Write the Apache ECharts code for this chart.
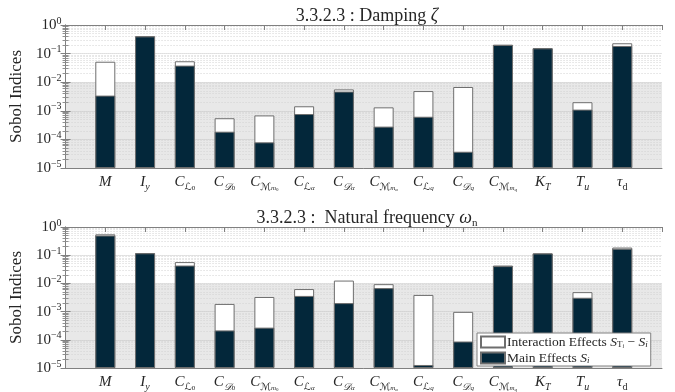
<!DOCTYPE html>
<html><head><meta charset="utf-8">
<script src="https://cdn.jsdelivr.net/npm/echarts@6/dist/echarts.min.js"></script>
<style>html,body{margin:0;padding:0;background:#fff}#c{width:675px;height:392px}</style>
</head><body><div id="c"></div>
<script>
// ---- data ----
const categories = [
  '{it|M}',
  '{it|I}{sbi|y}',
  '{it|C}{sc|ℒ}{ssu|0}',
  '{it|C}{sc|𝒟}{ssu|0}',
  '{it|C}{sc|ℳ}{ssi|m}{sssu|0}',
  '{it|C}{sc|ℒ}{ssi|α}',
  '{it|C}{sc|𝒟}{ssi|α}',
  '{it|C}{sc|ℳ}{ssi|m}{sssi|α}',
  '{it|C}{sc|ℒ}{ssi|q}',
  '{it|C}{sc|𝒟}{ssi|q}',
  '{it|C}{sc|ℳ}{ssi|m}{sssi|q}',
  '{it|K}{sbi|T}',
  '{it|T}{sbi|u}',
  '{it|τ}{sbu|d}'
];
// Damping zeta
const dampMain  = [0.0034, 0.40, 0.038, 1.86e-4, 7.9e-5, 7.7e-4, 4.7e-3, 2.8e-4, 6.2e-4, 3.7e-5, 0.20, 0.153, 1.1e-3, 0.185];
const dampTotal = [0.052, 0.41, 0.054, 5.5e-4, 6.9e-4, 1.44e-3, 5.6e-3, 1.32e-3, 4.9e-3, 6.8e-3, 0.205, 0.155, 2.0e-3, 0.23];
// Natural frequency omega_n
const freqMain  = [0.50, 0.117, 0.043, 2.15e-4, 2.7e-4, 3.6e-3, 2.0e-3, 6.8e-3, 1.28e-5, 8.7e-5, 0.041, 0.115, 3.1e-3, 0.17];
const freqTotal = [0.55, 0.119, 0.057, 1.87e-3, 3.3e-3, 6.3e-3, 0.0126, 9.4e-3, 3.9e-3, 9.8e-4, 0.043, 0.117, 4.9e-3, 0.187];
const yTicks = [1e-5, 1e-4, 1e-3, 1e-2, 1e-1, 1];
const titles = [
  '{n|3.3.2.3 : Damping }{g|ζ}',
  '{n|3.3.2.3 :  Natural frequency }{g|ω}{su|n}'
];
const legendNames = ['Interaction Effects', 'Main Effects'];

// ---- styles ----
const SERIF = '"Liberation Serif","DejaVu Serif",serif';
const MATH = '"DejaVu Serif","DejaVu Sans",serif';
const DARK = '#03273a';
const TXT = '#262626';
const richX = {
  it:  {fontFamily: SERIF, fontStyle: 'italic', fontSize: 15, lineHeight: 20, color: TXT},
  sbi: {fontFamily: SERIF, fontStyle: 'italic', fontSize: 10, lineHeight: 8, verticalAlign: 'bottom', color: TXT},
  sbu: {fontFamily: SERIF, fontSize: 10, lineHeight: 8, verticalAlign: 'bottom', color: TXT},
  sc:  {fontFamily: MATH, fontStyle: 'italic', fontSize: 10, lineHeight: 8, verticalAlign: 'bottom', color: TXT},
  ssu: {fontFamily: SERIF, fontSize: 7, lineHeight: 3, verticalAlign: 'bottom', color: TXT},
  ssi: {fontFamily: SERIF, fontStyle: 'italic', fontSize: 7, lineHeight: 3, verticalAlign: 'bottom', color: TXT},
  sssu:{fontFamily: SERIF, fontSize: 5, lineHeight: 1, verticalAlign: 'bottom', color: TXT},
  sssi:{fontFamily: SERIF, fontStyle: 'italic', fontSize: 5, lineHeight: 1, verticalAlign: 'bottom', color: TXT}
};
const richY = {
  b: {fontFamily: SERIF, fontSize: 15, lineHeight: 18, color: TXT},
  s: {fontFamily: SERIF, fontSize: 10, lineHeight: 8, verticalAlign: 'top', color: TXT}
};
const grids = [
  {left: 57, right: 13, top: 25, height: 143},
  {left: 57, right: 13, top: 227, height: 142}
];
const xAxes = [], yAxes = [], series = [], titleOpts = [];
[[dampMain, dampTotal], [freqMain, freqTotal]].forEach(([main, total], g) => {
  xAxes.push({
    gridIndex: g, type: 'value', min: 0, max: 15, interval: 1, position: 'bottom',
    axisLine: {show: true, onZero: false, lineStyle: {color: '#808080'}},
    axisTick: {show: false},
    splitLine: {show: false},
    axisLabel: {
      margin: 4, rich: richX,
      formatter: v => (v >= 1 && v <= categories.length) ? categories[v - 1] : ''
    }
  });
  xAxes.push({
    gridIndex: g, type: 'value', min: 0, max: 15, interval: 1, position: 'top',
    axisLine: {show: true, onZero: false, lineStyle: {color: '#808080'}},
    axisTick: {show: true, inside: true, length: 5, lineStyle: {color: '#808080'}},
    axisLabel: {show: false}, splitLine: {show: false}
  });
  yAxes.push({
    gridIndex: g, type: 'log', min: 1e-5, max: 1, logBase: 10, startValue: 1e-5,
    name: 'Sobol Indices', nameLocation: 'middle', nameGap: 36,
    nameTextStyle: {fontFamily: SERIF, fontSize: 17, color: TXT},
    axisLine: {show: true, lineStyle: {color: '#808080'}},
    axisTick: {show: true, inside: true, length: 5, lineStyle: {color: '#808080'}},
    minorTick: {show: true, splitNumber: 9, length: 3, lineStyle: {color: '#909090'}},
    minorSplitLine: {show: true, lineStyle: {color: '#d2d2d2', width: 1, type: [1, 2]}},
    splitLine: {show: true, lineStyle: {color: '#c4c4c4', width: 1, type: [1, 1]}},
    splitArea: {show: true, areaStyle: {color: ['#e8e8e8', '#e8e8e8', '#e8e8e8', '#ffffff', '#ffffff']}},
    axisLabel: {
      margin: 4, rich: richY,
      formatter: v => {
        const e = Math.round(Math.log10(v));
        return '{b|10}{s|' + (e < 0 ? '−' + (-e) : e) + '}';
      }
    }
  });
  yAxes.push({
    gridIndex: g, type: 'log', min: 1e-5, max: 1, logBase: 10, position: 'right',
    axisLine: {show: true, lineStyle: {color: '#808080'}},
    axisTick: {show: true, inside: true, length: 5, lineStyle: {color: '#808080'}},
    minorTick: {show: true, splitNumber: 9, length: 3, lineStyle: {color: '#909090'}},
    axisLabel: {show: false}, splitLine: {show: false}
  });
  series.push({
    name: legendNames[0], type: 'bar', xAxisIndex: 2 * g, yAxisIndex: 2 * g,
    barWidth: 20, barGap: '-100%', z: 3,
    itemStyle: {color: '#ffffff', borderColor: '#6e6e6e', borderWidth: 1},
    data: total.map((v, i) => [i + 1, v])
  });
  series.push({
    name: legendNames[1], type: 'bar', xAxisIndex: 2 * g, yAxisIndex: 2 * g,
    barWidth: 20, barGap: '-100%', z: 4,
    itemStyle: {color: DARK, borderColor: '#6e6e6e', borderWidth: 1},
    data: main.map((v, i) => [i + 1, v])
  });
  titleOpts.push({
    text: titles[g], left: 362, textAlign: 'center', top: g === 0 ? 0 : 202,
    textStyle: {
      fontWeight: 'normal',
      rich: {
        n: {fontFamily: SERIF, fontWeight: 'normal', fontSize: 18, color: TXT, lineHeight: 22},
        g: {fontFamily: SERIF, fontWeight: 'normal', fontStyle: 'italic', fontSize: 18, color: TXT, lineHeight: 22},
        su: {fontFamily: SERIF, fontWeight: 'normal', fontSize: 11, color: TXT, lineHeight: 9, verticalAlign: 'bottom'}
      }
    }
  });
});
const chart = echarts.init(document.getElementById('c'), null, {renderer: 'canvas'});
chart.setOption({
  animation: false,
  backgroundColor: '#ffffff',
  title: titleOpts,
  grid: grids,
  xAxis: xAxes,
  yAxis: yAxes,
  legend: {
    data: legendNames.map(n => ({name: n, icon: 'rect'})),
    orient: 'vertical', left: 477, top: 333, z: 20,
    itemWidth: 24, itemHeight: 11, itemGap: 2, padding: [2, 3, 1, 3],
    backgroundColor: '#ffffff', borderColor: '#808080', borderWidth: 1, borderRadius: 0,
    selectedMode: false,
    textStyle: {
      fontFamily: SERIF, fontSize: 13, color: TXT, padding: [0, 0, 0, -3],
      rich: {
        t: {fontFamily: SERIF, fontSize: 13.5, color: TXT, lineHeight: 14},
        i: {fontFamily: SERIF, fontStyle: 'italic', fontSize: 13.5, color: TXT, lineHeight: 14},
        s: {fontFamily: SERIF, fontSize: 9, color: TXT, lineHeight: 5, verticalAlign: 'bottom'},
        si: {fontFamily: SERIF, fontStyle: 'italic', fontSize: 9, color: TXT, lineHeight: 5, verticalAlign: 'bottom'},
        ss: {fontFamily: SERIF, fontStyle: 'italic', fontSize: 6, color: TXT, lineHeight: 1, verticalAlign: 'bottom'}
      }
    },
    formatter: name => name === legendNames[0]
      ? '{t|Interaction Effects }{i|S}{s|T}{ss|i}{t| − }{i|S}{si|i}'
      : '{t|Main Effects }{i|S}{si|i}'
  },
  series: series
});
</script>
</body></html>
